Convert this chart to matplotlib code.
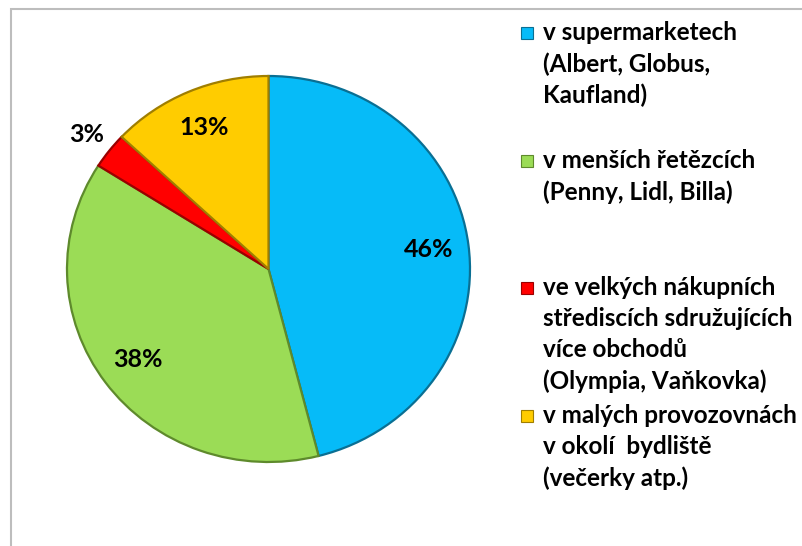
import matplotlib.pyplot as plt
import numpy as np
from matplotlib.patches import Rectangle

plt.rcParams["font.family"] = ["Lato", "DejaVu Sans"]

categories = [
    "v supermarketech\n(Albert, Globus,\nKaufland)",
    "v menších řetězcích\n(Penny, Lidl, Billa)",
    "ve velkých nákupních\nstřediscích sdružujících\nvíce obchodů\n(Olympia, Vaňkovka)",
    "v malých provozovnách\nv okolí  bydliště\n(večerky atp.)",
]
shares = [46, 38, 3, 13]
colors = ["#06BBF8", "#9BDC56", "#FF0000", "#FFCC00"]
edges = ["#0A6F93", "#5E8A2C", "#9A0000", "#A07E00"]
legend_y = [33, 161, 288, 416]  # pixel row of each item's first line

W, H = 802, 546
fig = plt.figure(figsize=(W / 100, H / 100), dpi=100)

# chart area border (right/bottom cut off in the original)
fig.patches.append(Rectangle((10.5 / W, -0.1), 1.2, 1 - 8.5 / H + 0.1,
                             transform=fig.transFigure, fill=False,
                             edgecolor="#BDBDBD", lw=1.5))

ax = fig.add_axes([67 / W, (H - 462) / H, (470 - 67) / W, (462 - 76) / H])
wedges, _ = ax.pie(shares, colors=colors, startangle=90, counterclock=False,
                   wedgeprops=dict(linewidth=1.6))
for w, ec in zip(wedges, edges):
    w.set_edgecolor(ec)
ax.set_aspect("auto")
ax.set_xlim(-1, 1)
ax.set_ylim(-1, 1)

for w, v in zip(wedges, shares):
    mid = np.deg2rad((w.theta1 + w.theta2) / 2)
    r = 1.14 if v < 5 else 0.8
    ax.text(r * np.cos(mid), r * np.sin(mid), f"{v}%", ha="center", va="center",
            fontsize=18, fontweight="bold", color="black")

for txt, y, c, ec in zip(categories, legend_y, colors, edges):
    fig.patches.append(Rectangle((521 / W, 1 - (y + 6) / H), 12 / W, 12 / H,
                                 transform=fig.transFigure, facecolor=c,
                                 edgecolor=ec, lw=0.8))
    fig.text(543 / W, 1 - (y - 12) / H, txt, ha="left", va="top",
             fontsize=17.5, fontweight="bold", linespacing=1.42)

fig.savefig("out.png", dpi=100)
